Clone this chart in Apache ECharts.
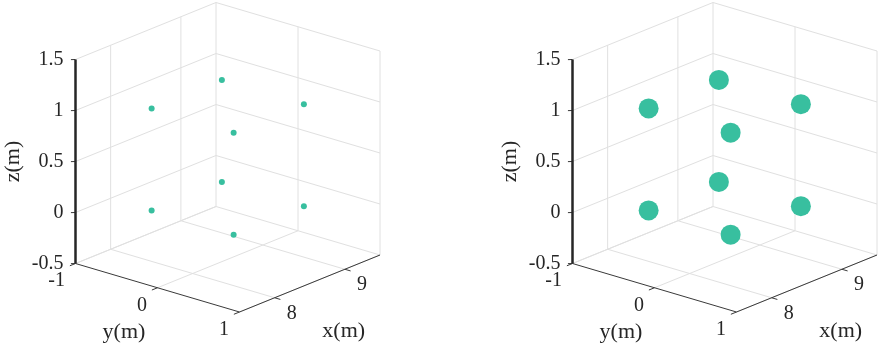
<!DOCTYPE html>
<html>
<head>
<meta charset="utf-8">
<script src="https://cdn.jsdelivr.net/npm/echarts@6/dist/echarts.min.js"></script>
<style>
  html, body { margin: 0; padding: 0; background: #fff; }
  #chart { width: 882px; height: 349px; }
</style>
</head>
<body>
<div id="chart"></div>
<script>
// the 8 measured points (corners of a 1 m cube)
var pointX = [8, 8, 8, 8, 9, 9, 9, 9];
var pointY = [-0.5, -0.5, 0.5, 0.5, -0.5, -0.5, 0.5, 0.5];
var pointZ = [0, 1, 0, 1, 0, 1, 0, 1];

// axis limits and ticks
var xLim = [7.5, 9.5];
var yLim = [-1, 1];
var zLim = [-0.5, 1.5];
var xTicks = [8, 9];
var yTicks = [-1, 0, 1];
var zTicks = [-0.5, 0, 0.5, 1, 1.5];
var xTickLabels = ['8', '9'];
var yTickLabels = ['-1', '0', '1'];
var zTickLabels = ['-0.5', '0', '0.5', '1', '1.5'];
var axisNames = { x: 'x(m)', y: 'y(m)', z: 'z(m)' };

// two panels, same view, different marker size
var panels = [
  { left: 0, origin: [75.5, 263.5], symbolSize: 6 },
  { left: 441, origin: [572.5, 263.5], symbolSize: 20 }
];

// view: screen px per data unit (v grows downward)
var view = { ux: 70.25, vx: -28.5, uy: 82, vy: 24.25, vz: -102 };

var PANEL_W = 441, PANEL_H = 349;
var TEXT = '#262626';
var FONT = '"Liberation Serif", "Times New Roman", serif';
var MARK = '#38bf9f';

// 3d -> 2d plane coords (y up), origin at (xmin, ymin, zmin)
var project = function (x, y, z) {
  var dx = x - xLim[0], dy = y - yLim[0], dz = z - zLim[0];
  return [dx * view.ux + dy * view.uy, -(dx * view.vx + dy * view.vy + dz * view.vz)];
};

var segOf = function (a, b) {
  var p = project(a[0], a[1], a[2]);
  var q = project(b[0], b[1], b[2]);
  return [p[0], p[1], q[0], q[1]];
};

// grid lines on the floor and the two back walls
var gridSegs = [];
xTicks.forEach(function (x) {
  gridSegs.push(segOf([x, yLim[0], zLim[0]], [x, yLim[1], zLim[0]]));
  gridSegs.push(segOf([x, yLim[0], zLim[0]], [x, yLim[0], zLim[1]]));
});
yTicks.forEach(function (y) {
  gridSegs.push(segOf([xLim[0], y, zLim[0]], [xLim[1], y, zLim[0]]));
  gridSegs.push(segOf([xLim[1], y, zLim[0]], [xLim[1], y, zLim[1]]));
});
zTicks.forEach(function (z) {
  gridSegs.push(segOf([xLim[0], yLim[0], z], [xLim[1], yLim[0], z]));
  gridSegs.push(segOf([xLim[1], yLim[0], z], [xLim[1], yLim[1], z]));
});

// x / y axis lines plus all tick marks
var thinSegs = [
  segOf([xLim[0], yLim[1], zLim[0]], [xLim[1], yLim[1], zLim[0]]),
  segOf([xLim[0], yLim[0], zLim[0]], [xLim[0], yLim[1], zLim[0]])
];
xTicks.forEach(function (x) {
  thinSegs.push(segOf([x, yLim[1], zLim[0]], [x, yLim[1] + 0.07, zLim[0]]));
});
yTicks.forEach(function (y) {
  thinSegs.push(segOf([xLim[0], y, zLim[0]], [xLim[0] - 0.08, y, zLim[0]]));
});
zTicks.forEach(function (z) {
  thinSegs.push(segOf([xLim[0], yLim[0], z], [xLim[0] - 0.03, yLim[0] - 0.03, z]));
});
var zAxisSegs = [segOf([xLim[0], yLim[0], zLim[0]], [xLim[0], yLim[0], zLim[1]])];

// texts: tick labels and axis names
var texts = [];
xTicks.forEach(function (x, i) {
  texts.push({ p: project(x, yLim[1], zLim[0]), text: xTickLabels[i], dx: 12, dy: 15.5, align: 'left', size: 20 });
});
yTicks.forEach(function (y, i) {
  texts.push({ p: project(xLim[0], y, zLim[0]), text: yTickLabels[i], dx: -10.5, dy: 17.5, align: 'right', size: 20 });
});
zTicks.forEach(function (z, i) {
  texts.push({ p: project(xLim[0], yLim[0], z), text: zTickLabels[i], dx: -12, dy: 0, align: 'right', size: 20 });
});
var xMid = (xLim[0] + xLim[1]) / 2, yMid = (yLim[0] + yLim[1]) / 2, zMid = (zLim[0] + zLim[1]) / 2;
texts.push({ p: project(xMid, yLim[1], zLim[0]), text: axisNames.x, dx: 34, dy: 47.5, align: 'center', size: 22 });
texts.push({ p: project(xLim[0], yMid, zLim[0]), text: axisNames.y, dx: -33.5, dy: 44, align: 'center', size: 22 });
texts.push({ p: project(xLim[0], yLim[0], zMid), text: axisNames.z, dx: -62, dy: 0, align: 'center', size: 22, rotate: Math.PI / 2 });

var lineSeries = function (idx, segs, color, width, z) {
  return {
    type: 'custom',
    xAxisIndex: idx, yAxisIndex: idx,
    data: segs,
    encode: { x: [0, 2], y: [1, 3] },
    silent: true,
    z: z,
    renderItem: function (params, api) {
      var a = api.coord([api.value(0), api.value(1)]);
      var b = api.coord([api.value(2), api.value(3)]);
      return {
        type: 'line',
        shape: { x1: a[0], y1: a[1], x2: b[0], y2: b[1] },
        style: { stroke: color, lineWidth: width }
      };
    }
  };
};

var textSeries = function (idx) {
  return {
    type: 'custom',
    xAxisIndex: idx, yAxisIndex: idx,
    data: texts.map(function (t) { return t.p; }),
    silent: true,
    z: 5,
    renderItem: function (params, api) {
      var t = texts[params.dataIndex];
      var c = api.coord([api.value(0), api.value(1)]);
      return {
        type: 'text',
        x: c[0] + t.dx,
        y: c[1] + t.dy,
        rotation: t.rotate || 0,
        style: {
          text: t.text,
          fill: TEXT,
          fontSize: t.size,
          fontFamily: FONT,
          align: t.align,
          verticalAlign: 'middle'
        }
      };
    }
  };
};

var points = pointX.map(function (x, i) { return project(x, pointY[i], pointZ[i]); });

var grids = [], xAxes = [], yAxes = [], series = [];
panels.forEach(function (pn, i) {
  var ox = pn.origin[0] - pn.left;
  var oy = pn.origin[1];
  grids.push({ left: pn.left, top: 0, width: PANEL_W, height: PANEL_H });
  xAxes.push({ type: 'value', gridIndex: i, show: false, min: -ox, max: PANEL_W - ox });
  yAxes.push({ type: 'value', gridIndex: i, show: false, min: oy - PANEL_H, max: oy });
  series.push(lineSeries(i, gridSegs, '#e0e0e0', 1, 1));
  series.push(lineSeries(i, thinSegs, '#3a3a3a', 1, 2));
  series.push(lineSeries(i, zAxisSegs, '#262626', 2.5, 3));
  series.push(textSeries(i));
  series.push({
    type: 'scatter',
    xAxisIndex: i, yAxisIndex: i,
    data: points,
    symbol: 'circle',
    symbolSize: pn.symbolSize,
    itemStyle: { color: MARK, opacity: 1 },
    clip: false,
    silent: true,
    z: 10
  });
});

var chart = echarts.init(document.getElementById('chart'));
chart.setOption({
  animation: false,
  backgroundColor: '#fff',
  grid: grids,
  xAxis: xAxes,
  yAxis: yAxes,
  series: series
});
</script>
</body>
</html>
